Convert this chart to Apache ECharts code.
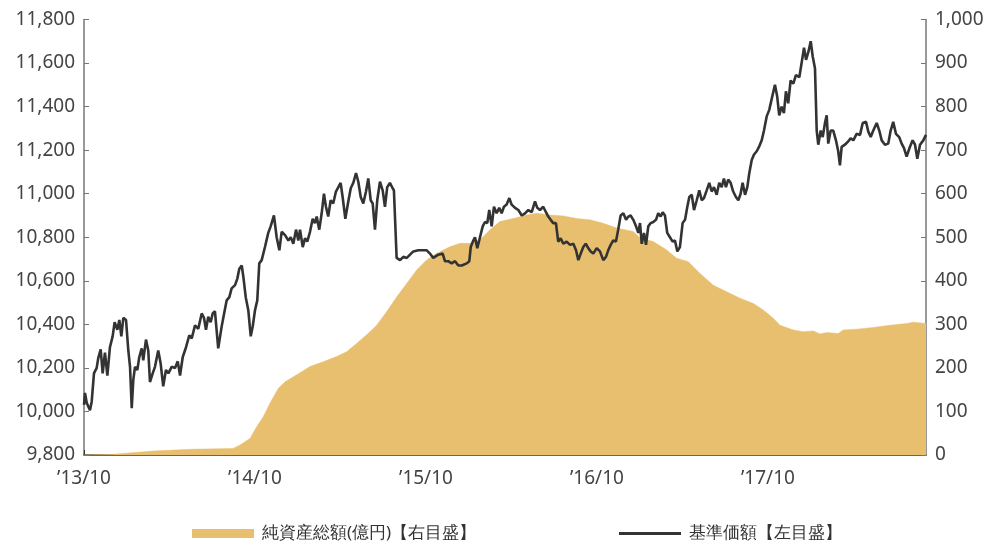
<!DOCTYPE html>
<html><head><meta charset="utf-8">
<script src="https://cdn.jsdelivr.net/npm/echarts@6/dist/echarts.min.js"></script>
<style>html,body{margin:0;padding:0;background:#fff}#c{width:987px;height:547px}</style>
</head><body><div id="c"></div>
<script>
// x positions: months elapsed since 2013/10
const xTickLabels = ["’13/10", "’14/10", "’15/10", "’16/10", "’17/10"];
const navName = "基準価額【左目盛】";
const aumName = "純資産総額(億円)【右目盛】";

const navMonths = [
0,0.07,0.19,0.42,0.54,0.70,0.89,1.00,1.17,1.31,
1.47,1.64,1.82,2.01,2.15,2.34,2.48,2.62,2.76,2.95,
3.11,3.23,3.35,3.46,3.58,3.74,3.88,4.05,4.16,4.35,
4.51,4.63,4.82,4.98,5.21,5.38,5.56,5.75,5.92,6.15,
6.39,6.58,6.74,6.93,7.16,7.39,7.56,7.79,8.02,8.26,
8.42,8.56,8.72,8.89,9.03,9.19,9.42,9.66,9.82,10.01,
10.20,10.36,10.60,10.76,10.90,11.07,11.18,11.35,11.53,11.70,
11.84,12.00,12.16,12.30,12.47,12.70,12.93,13.10,13.33,13.52,
13.71,13.87,14.11,14.34,14.51,14.69,14.88,15.04,15.16,15.35,
15.51,15.67,15.86,16.05,16.21,16.33,16.51,16.68,16.84,16.98,
17.14,17.31,17.49,17.68,17.85,18.01,18.15,18.34,18.55,18.72,
18.90,19.09,19.25,19.42,19.60,19.79,19.95,20.12,20.26,20.42,
20.58,20.77,20.96,21.12,21.28,21.47,21.66,21.75,21.94,22.18,
22.41,22.65,22.88,23.11,23.46,23.81,24.05,24.28,24.51,24.86,
25.17,25.33,25.56,25.80,26.04,26.27,26.51,26.86,27.04,27.14,
27.32,27.44,27.60,27.79,27.98,28.14,28.30,28.44,28.61,28.77,
28.96,29.14,29.31,29.47,29.66,29.85,30.01,30.25,30.48,30.72,
30.95,31.18,31.42,31.65,31.81,32.00,32.23,32.42,32.58,32.75,
32.93,33.12,33.28,33.45,33.64,33.87,34.11,34.34,34.53,34.69,
34.86,35.04,35.21,35.39,35.56,35.74,35.98,36.21,36.44,36.63,
36.79,36.96,37.14,37.33,37.49,37.66,37.85,38.04,38.20,38.36,
38.55,38.74,38.90,39.02,39.14,39.30,39.44,39.60,39.77,39.95,
40.14,40.30,40.47,40.61,40.77,40.93,41.12,41.31,41.47,41.64,
41.82,42.01,42.18,42.34,42.48,42.65,42.81,43.00,43.18,43.35,
43.51,43.70,43.88,44.05,44.21,44.40,44.58,44.75,44.91,45.05,
45.21,45.38,45.56,45.75,45.92,46.08,46.22,46.39,46.55,46.69,
46.86,47.02,47.21,47.37,47.56,47.72,47.91,48.09,48.33,48.49,
48.65,48.79,48.96,49.12,49.26,49.42,49.59,49.78,49.96,50.20,
50.36,50.53,50.67,50.83,51.00,51.14,51.30,51.42,51.53,51.70,
51.84,52.00,52.12,52.23,52.40,52.58,52.77,52.93,53.05,53.17,
53.40,53.63,53.80,53.99,54.22,54.46,54.65,54.88,55.04,55.21,
55.39,55.63,55.81,55.98,56.21,56.44,56.61,56.79,56.98,57.21,
57.38,57.54,57.73,57.96,58.15,58.32,58.48,58.67,58.90,59.09
];
const navValues = [
10030,10085,10040,10005,10045,10175,10200,10245,10285,10175,
10270,10165,10295,10345,10410,10375,10420,10345,10430,10420,
10280,10205,10015,10145,10205,10190,10250,10290,10235,10330,
10280,10135,10175,10205,10280,10220,10115,10190,10175,10205,
10200,10230,10165,10250,10295,10350,10335,10395,10380,10450,
10430,10375,10435,10410,10450,10460,10290,10390,10445,10510,
10525,10565,10580,10610,10655,10670,10620,10525,10465,10345,
10390,10465,10510,10680,10695,10755,10820,10850,10900,10800,
10740,10825,10810,10785,10800,10770,10835,10785,10835,10755,
10795,10780,10825,10885,10865,10895,10835,10910,11000,10940,
10895,10970,10955,11010,11030,11050,10985,10885,10965,11025,
11050,11095,11055,10985,10955,11010,11070,10970,10955,10835,
10970,11055,11015,10940,11030,11050,11025,11015,10705,10695,
10710,10705,10720,10735,10740,10740,10740,10725,10705,10720,
10725,10690,10690,10680,10690,10670,10670,10680,10690,10755,
10785,10800,10750,10800,10850,10870,10865,10925,10850,10940,
10910,10935,10910,10940,10950,10980,10950,10935,10925,10900,
10910,10925,10915,10965,10935,10925,10940,10915,10895,10880,
10865,10865,10780,10795,10770,10780,10765,10770,10740,10695,
10725,10755,10770,10750,10735,10725,10750,10735,10695,10710,
10740,10765,10785,10780,10835,10900,10910,10880,10895,10900,
10880,10850,10820,10865,10770,10820,10765,10850,10865,10870,
10880,10910,10895,10915,10900,10820,10800,10780,10785,10735,
10755,10865,10880,10940,10985,10995,10925,10970,11015,10970,
10980,11015,11050,11010,11030,10995,11050,11030,11070,11030,
11065,11050,11010,10985,10970,11000,11050,10995,11030,11095,
11155,11180,11195,11215,11245,11290,11355,11385,11455,11500,
11445,11360,11400,11370,11470,11415,11520,11505,11545,11535,
11600,11670,11615,11650,11700,11630,11575,11290,11225,11290,
11260,11325,11360,11230,11290,11290,11245,11195,11130,11215,
11225,11240,11255,11245,11275,11270,11325,11330,11285,11260,
11290,11325,11290,11245,11225,11230,11290,11330,11275,11260,
11230,11210,11170,11215,11245,11225,11160,11225,11245,11270
];

const aumMonths = [
0,1.82,4.84,7.44,10.46,10.95,11.65,12.12,12.58,13.05,
13.64,14.11,14.93,15.86,16.79,17.73,18.43,19.13,19.84,20.54,
21.24,21.94,22.65,23.35,24.05,24.75,25.68,26.39,27.09,27.79,
28.49,29.19,30.13,31.07,31.77,32.70,33.64,34.58,35.51,36.44,
37.38,38.55,39.02,39.95,40.89,41.59,42.41,43.23,44.16,45.10,
46.04,46.97,47.67,48.37,48.84,49.78,50.48,51.18,51.65,52.12,
52.93,53.28,54.22,55.39,56.56,57.73,58.20,59.09
];
const aumValues = [
0,1,9,13,15,23,38,65,88,119,
153,168,184,203,214,226,237,256,276,298,
329,363,394,425,448,463,478,486,486,494,
517,536,543,551,555,551,549,543,540,532,
521,513,498,490,471,452,444,417,390,375,
360,348,333,314,298,287,283,285,278,281,
279,287,289,293,298,302,305,302
];

const navData = navMonths.map((m, i) => [m, navValues[i]]);
const aumData = aumMonths.map((m, i) => [m, aumValues[i]]);

const FONT = '"Noto Sans", sans-serif';
const chart = echarts.init(document.getElementById('c'), null, {renderer: 'canvas'});
chart.setOption({
  animation: false,
  backgroundColor: '#fff',
  grid: {left: 84, right: 61, top: 19.5, bottom: 92, containLabel: false},
  legend: [
    {data: [{name: aumName, icon: 'rect'}], left: 187, top: 520, itemWidth: 62, itemHeight: 9,
     textStyle: {fontFamily: FONT, fontSize: 17, color: '#333', padding: [0, 0, 0, 3]}},
    {data: [{name: navName, icon: 'rect'}], left: 614, top: 520, itemWidth: 62, itemHeight: 3,
     textStyle: {fontFamily: FONT, fontSize: 17, color: '#333', padding: [0, 0, 0, 3]}}
  ],
  xAxis: {
    type: 'value', min: 0, max: 59.09, interval: 12,
    splitLine: {show: false},
    axisLine: {lineStyle: {color: '#333', width: 1.5}},
    axisTick: {inside: true, length: 5, lineStyle: {color: '#333'}},
    axisLabel: {
      margin: 14, fontFamily: FONT, fontSize: 19, color: '#444', showMaxLabel: false,
      formatter: v => (v % 12 === 0 && xTickLabels[v / 12] !== undefined) ? xTickLabels[v / 12] : ''
    }
  },
  yAxis: [
    {type: 'value', min: 9800, max: 11800, interval: 200, position: 'left',
     splitLine: {show: false},
     axisLine: {show: true, lineStyle: {color: '#777', width: 1.5}},
     axisTick: {show: true, inside: true, length: 5, lineStyle: {color: '#777'}},
     axisLabel: {margin: 9, fontFamily: FONT, fontSize: 19, color: '#444',
       formatter: v => v.toLocaleString('en-US')}},
    {type: 'value', min: 0, max: 1000, interval: 100, position: 'right',
     splitLine: {show: false},
     axisLine: {show: true, lineStyle: {color: '#777', width: 1.5}},
     axisTick: {show: true, inside: true, length: 5, lineStyle: {color: '#777'}},
     axisLabel: {margin: 9, fontFamily: FONT, fontSize: 19, color: '#444',
       formatter: v => v.toLocaleString('en-US')}}
  ],
  series: [
    {name: aumName, type: 'line', yAxisIndex: 1, data: aumData, showSymbol: false, symbol: 'none',
     lineStyle: {width: 0.5, color: '#E8BF6E'}, itemStyle: {color: '#E8BF6E'},
     areaStyle: {color: '#E8BF6E', opacity: 1}, z: 1},
    {name: navName, type: 'line', yAxisIndex: 0, data: navData, showSymbol: false, symbol: 'none',
     lineStyle: {width: 2.6, color: '#333'}, itemStyle: {color: '#333'}, z: 3}
  ]
});
</script></body></html>
